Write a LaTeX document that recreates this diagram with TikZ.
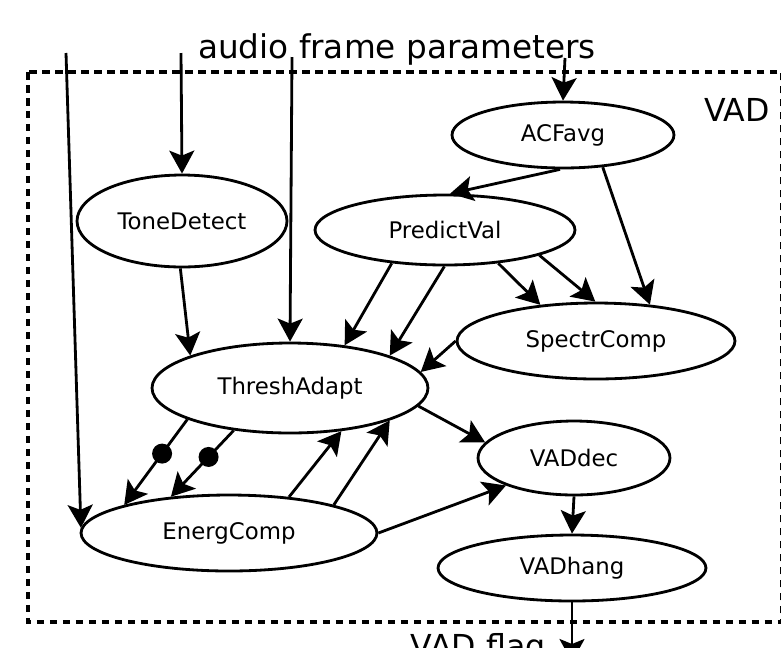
\documentclass[tikz,border=0pt]{standalone}
\usepackage{fontspec}
\setmainfont{DejaVu Sans}
\usetikzlibrary{shapes.geometric,arrows.meta}
\begin{document}
\begin{tikzpicture}[x=0.02cm, y=-0.02cm, line width=1.6pt,
	blk/.style={draw, ellipse, inner sep=0, font=\fontsize{13}{15}\selectfont},
	lbl/.style={font=\fontsize{18}{20}\selectfont},
	blob/.style={circle, fill, inner sep=0, minimum size=0.4cm},
	>={Stealth[length=0.46cm, width=0.5cm, inset=0.1cm]}]
	\useasboundingbox (0,0) rectangle (781,647); \clip (0,0) rectangle (781,647);
	\draw[line width=2.2pt, dash pattern=on 0.15cm off 0.11cm] (28,72) rectangle (782,622);
	\node[lbl, font=\fontsize{18.6}{20}\selectfont, anchor=base] (par) at (397,58) {audio frame parameters};
	\node[lbl, anchor=base] (vad) at (737,121) {VAD};
	\node[lbl, anchor=base] (flag) at (478,657) {VAD flag};

	\node[blk, minimum width=4.44cm, minimum height=1.32cm] (acf) at (563,135) {ACFavg};
	\node[blk, minimum width=4.2cm, minimum height=1.84cm] (tone) at (182,221) {ToneDetect};
	\node[blk, minimum width=5.2cm, minimum height=1.4cm] (pred) at (445,230) {PredictVal};
	\node[blk, minimum width=5.52cm, minimum height=1.8cm] (thr) at (290,388) {ThreshAdapt};
	\node[blk, minimum width=5.56cm, minimum height=1.52cm] (spec) at (596,341) {SpectrComp};
	\node[blk, minimum width=3.84cm, minimum height=1.48cm] (vdec) at (574,458) {VADdec};
	\node[blk, minimum width=5.36cm, minimum height=1.32cm] (vhang) at (572,568) {VADhang};
	\node[blk, minimum width=5.92cm, minimum height=1.52cm] (energ) at (229,533) {EnergComp};

	\coordinate (in1) at (66,53); \coordinate (in2) at (181,53); \coordinate (in3) at (292,57); \coordinate (in4) at (565,58);
	\coordinate (out) at (572,662);

	\draw[->] (in1) -- (energ.178);
	\draw[->] (in2) -- (tone.north);
	\draw[->] (in3) -- (thr.north);
	\draw[->] (in4) -- (acf.north);

	\draw[->] (acf.265) -- (pred.82);
	\draw[->] (acf.321) -- (spec.34);
	\draw[->] (pred.212) -- (thr.38);
	\draw[->] (pred.269) -- (thr.18);
	\draw[->] (pred.328) -- (spec.147);
	\draw[->] (pred.345) -- (spec.91);
	\draw[->] (spec.west) -- (thr.7);
	\draw[->] (tone.268) -- (thr.162);
	\draw[->] (thr.352) -- (vdec.170);
	\draw[->] (thr.197) -- node[blob, pos=0.4] {} (energ.165);
	\draw[->] (thr.217) -- node[blob, pos=0.4] {} (energ.148);
	\draw[->] (energ.31) -- (thr.320);
	\draw[->] (energ.15) -- (thr.342);
	\draw[->] (energ.east) -- (vdec.202);
	\draw[->] (vdec.south) -- (vhang.north);
	\draw[->] (vhang.south) -- (out);
\end{tikzpicture}
\end{document}
